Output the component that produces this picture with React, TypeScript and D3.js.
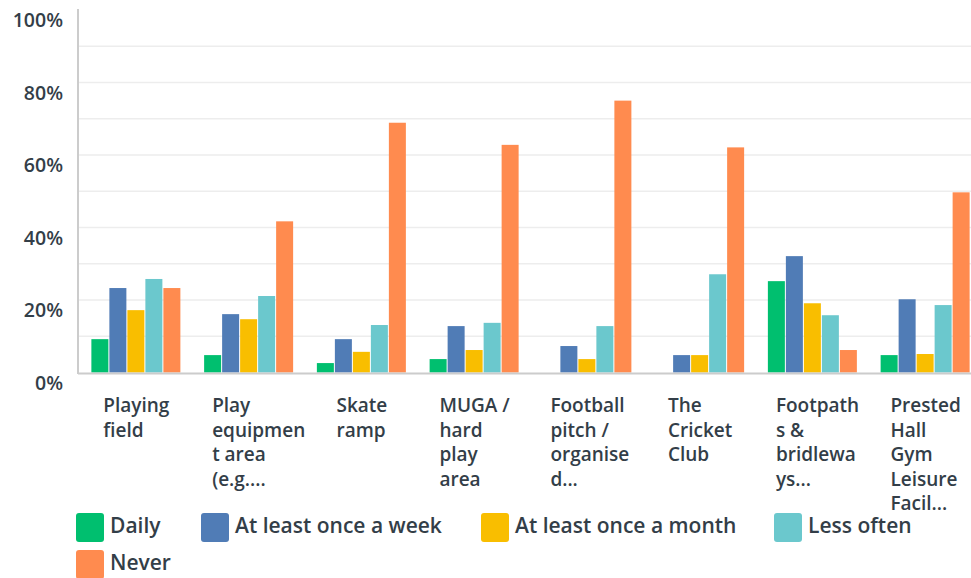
import React, { useRef, useEffect } from 'react';
import * as d3 from 'd3';

const categories = [
  'Playing field',
  'Play equipment area (e.g....',
  'Skate ramp',
  'MUGA / hard play area',
  'Football pitch / organised...',
  'The Cricket Club',
  'Footpaths & bridleways...',
  'Prested Hall Gym Leisure Facil...',
];

// wrapped tick labels as they appear in the chart
const categoryLines = [
  ['Playing', 'field'],
  ['Play', 'equipmen', 't area', '(e.g....'],
  ['Skate', 'ramp'],
  ['MUGA /', 'hard', 'play', 'area'],
  ['Football', 'pitch /', 'organise', 'd...'],
  ['The', 'Cricket', 'Club'],
  ['Footpath', 's &', 'bridlewa', 'ys...'],
  ['Prested', 'Hall', 'Gym', 'Leisure', 'Facil...'],
];

const seriesNames = ['Daily', 'At least once a week', 'At least once a month', 'Less often', 'Never'];
const seriesColors = ['#00bf6f', '#507cb6', '#f9be00', '#6bc8cd', '#ff8b4f'];

const daily = [9.2, 4.8, 2.6, 3.7, 0, 0, 25.2, 4.8];
const weekly = [23.3, 16.1, 9.2, 12.8, 7.3, 4.8, 32.1, 20.2];
const monthly = [17.2, 14.7, 5.7, 6.2, 3.7, 4.8, 19.1, 5.1];
const lessOften = [25.8, 21.1, 13.1, 13.7, 12.8, 27.1, 15.8, 18.6];
const never = [23.3, 41.7, 68.9, 62.8, 75.0, 62.1, 6.2, 49.7];

const yTicks = [0, 20, 40, 60, 80, 100];
const gridTicks = [10, 20, 30, 40, 50, 60, 70, 80, 90];

const App: React.FC = () => {
  const svgRef = useRef<SVGSVGElement | null>(null);

  useEffect(() => {
    if (!svgRef.current) return;
    const w = 971;
    const h = 578;
    const font = '"Open Sans", sans-serif';
    const textColor = '#333e48';
    const series = [daily, weekly, monthly, lessOften, never];

    const svg = d3.select(svgRef.current).attr('width', w).attr('height', h);
    svg.selectAll('*').remove();

    const left = 78;
    const y = d3.scaleLinear().domain([0, 100]).range([372.5, 10]);
    const x0 = d3.scaleBand<string>().domain(categories).range([80, 982]).padding(0);
    const groupW = 90;
    const x1 = d3.scaleBand<string>().domain(seriesNames).range([0, groupW]).padding(0);

    // gridlines
    svg
      .append('g')
      .selectAll('line')
      .data(gridTicks)
      .join('line')
      .attr('x1', left)
      .attr('x2', w)
      .attr('y1', (d) => y(d))
      .attr('y2', (d) => y(d))
      .attr('stroke', '#ededed')
      .attr('stroke-width', 1.5);

    // bars
    const groups = svg
      .append('g')
      .selectAll('g')
      .data(categories)
      .join('g')
      .attr('transform', (d) => `translate(${x0(d)! + (x0.bandwidth() - groupW) / 2},0)`);

    groups
      .selectAll('rect')
      .data((_, i) => seriesNames.map((s, j) => ({ s, v: series[j][i], c: seriesColors[j] })))
      .join('rect')
      .attr('x', (d) => x1(d.s)!)
      .attr('width', x1.bandwidth() - 1)
      .attr('y', (d) => y(d.v))
      .attr('height', (d) => y(0) - y(d.v))
      .attr('fill', (d) => d.c);

    // axes lines
    svg
      .append('line')
      .attr('x1', left)
      .attr('x2', left)
      .attr('y1', 9)
      .attr('y2', 374)
      .attr('stroke', '#cccccc')
      .attr('stroke-width', 2);
    svg
      .append('line')
      .attr('x1', left)
      .attr('x2', w)
      .attr('y1', 373.5)
      .attr('y2', 373.5)
      .attr('stroke', '#cccccc')
      .attr('stroke-width', 2);

    // y labels
    svg
      .append('g')
      .selectAll('text')
      .data(yTicks)
      .join('text')
      .attr('x', 63)
      .attr('y', (d) => y(d) + 17)
      .attr('text-anchor', 'end')
      .attr('font-family', font)
      .attr('font-weight', 600)
      .attr('font-size', 19.5)
      .attr('fill', textColor)
      .text((d) => `${d}%`);

    // category labels
    categories.forEach((c, i) => {
      const center = x0(c)! + x0.bandwidth() / 2;
      const t = svg
        .append('text')
        .attr('font-family', font)
        .attr('font-weight', 600)
        .attr('font-size', 19)
        .attr('fill', textColor);
      categoryLines[i].forEach((line, k) => {
        t.append('tspan').attr('y', 412 + k * 24.5).text(line);
      });
      const maxW = d3.max(t.selectAll<SVGTSpanElement, unknown>('tspan').nodes(), (n) => n.getComputedTextLength()) || 0;
      const startX = center - Math.min(maxW, 74) / 2;
      t.selectAll('tspan').attr('x', startX);
    });

    // legend
    const legendPos = [
      [76, 525],
      [201, 525],
      [481, 525],
      [774, 525],
      [76, 562],
    ];
    seriesNames.forEach((s, i) => {
      const [lx, ly] = legendPos[i];
      svg
        .append('rect')
        .attr('x', lx)
        .attr('y', ly - 12)
        .attr('width', 28)
        .attr('height', 29)
        .attr('rx', 3)
        .attr('fill', seriesColors[i]);
      svg
        .append('text')
        .attr('x', lx + 34)
        .attr('y', ly + 7.5)
        .attr('font-family', font)
        .attr('font-weight', 600)
        .attr('font-size', 21)
        .attr('fill', textColor)
        .text(s);
    });
  }, []);

  return (
    <div style={{ position: 'absolute', left: 0, top: 0 }}>
      <svg ref={svgRef} style={{ display: 'block' }}></svg>
    </div>
  );
};

export default App;
